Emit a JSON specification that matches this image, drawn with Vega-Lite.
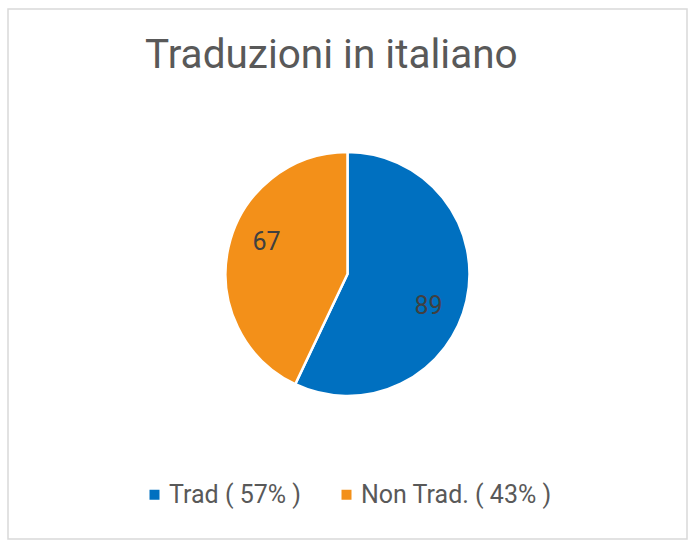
{
  "$schema": "https://vega.github.io/schema/vega-lite/v6.json",
  "description": "Traduzioni in italiano",
  "width": 679,
  "height": 530,
  "autosize": {"type": "none"},
  "padding": {"left": 8, "top": 9, "right": 11, "bottom": 11},
  "title": {
    "text": "Traduzioni in italiano",
    "orient": "top",
    "anchor": "start",
    "frame": "group",
    "offset": -99,
    "baseline": "alphabetic",
    "dx": 137,
    "font": "Roboto",
    "fontSize": 40.5,
    "fontWeight": "normal",
    "color": "#595959"
  },
  "data": {
    "values": [
      {"Categoria": "Trad ( 57% )", "Valore": 89, "Ordine": 1},
      {"Categoria": "Non Trad. ( 43% )", "Valore": 67, "Ordine": 2}
    ]
  },
  "view": {"stroke": "#d9d9d9", "strokeWidth": 1.5},
  "encoding": {
    "theta": {"field": "Valore", "type": "quantitative", "stack": true},
    "order": {"field": "Ordine", "type": "quantitative"}
  },
  "layer": [
    {
      "mark": {"type": "arc", "outerRadius": 122, "stroke": "white", "strokeWidth": 2.5},
      "encoding": {
        "color": {
          "field": "Categoria",
          "type": "nominal",
          "scale": {
            "domain": ["Trad ( 57% )", "Non Trad. ( 43% )"],
            "range": ["#0070C0", "#F39019"]
          },
          "legend": {
            "orient": "none",
            "legendX": 134,
            "legendY": 473,
            "padding": 0,
            "direction": "horizontal",
            "title": null,
            "symbolType": "square",
            "symbolSize": 100,
            "symbolOffset": 0,
            "symbolStrokeWidth": 0,
            "labelFont": "Roboto",
            "labelFontSize": 25,
            "labelColor": "#595959",
            "labelOffset": 2,
            "columnPadding": 33,
            "labelLimit": 400
          }
        }
      }
    },
    {
      "mark": {"type": "text", "radius": 87, "thetaOffset": 0.15, "font": "Roboto", "fontSize": 25, "color": "#404040"},
      "encoding": {
        "text": {"field": "Valore", "type": "quantitative"}
      }
    }
  ]
}
